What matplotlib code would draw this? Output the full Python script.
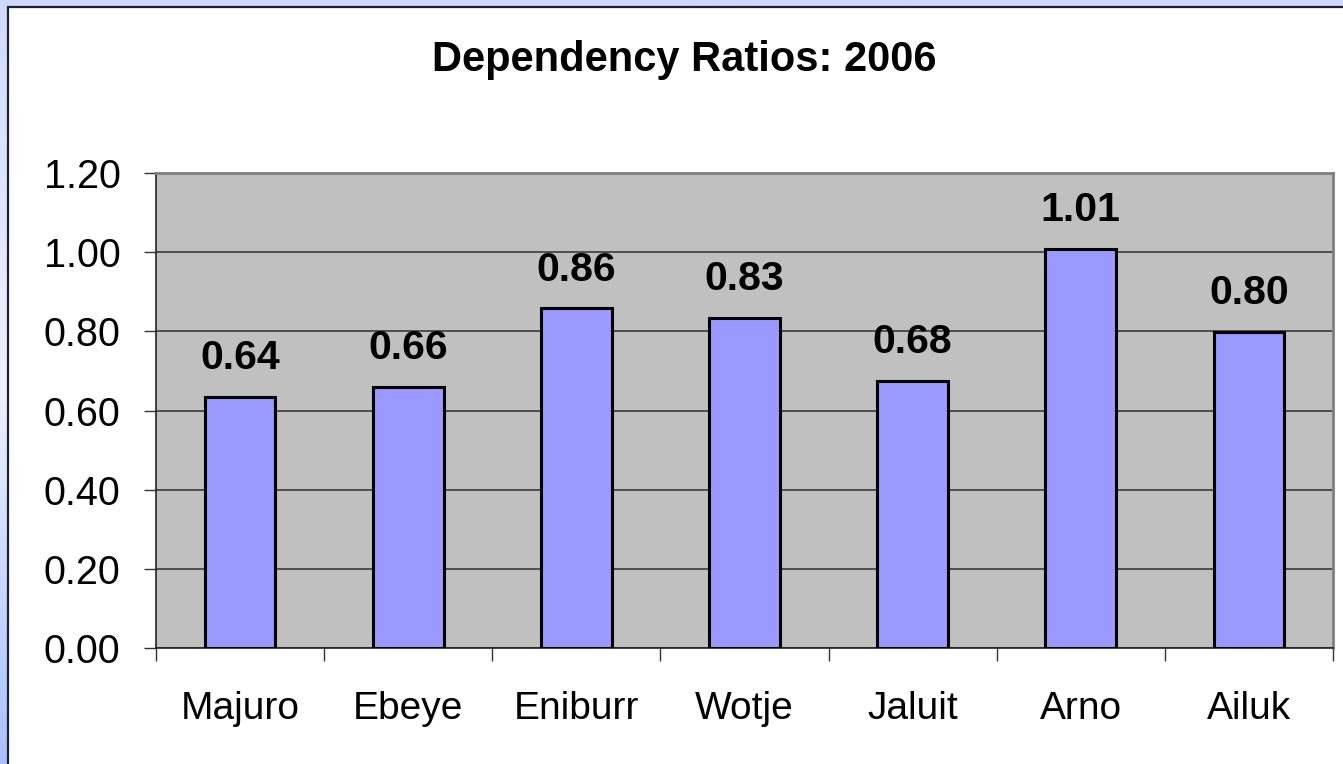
# dependency ratios bar chart

import numpy as np
from matplotlib import pyplot as plt
from matplotlib.patches import Rectangle
from matplotlib.colors import LinearSegmentedColormap

# data
islands = ["Majuro", "Ebeye", "Eniburr", "Wotje", "Jaluit", "Arno", "Ailuk"]
ratios = [0.635, 0.66, 0.858, 0.833, 0.675, 1.009, 0.798]
ratio_labels = ["0.64", "0.66", "0.86", "0.83", "0.68", "1.01", "0.80"]
y_ticks = [0.0, 0.2, 0.4, 0.6, 0.8, 1.0, 1.2]

plt.rcParams['font.family'] = ['Liberation Sans', 'DejaVu Sans']

W, H = 1343, 764
fig = plt.figure(figsize=(W / 100, H / 100), dpi=100)

# bluish gradient behind the white panel
bg = fig.add_axes([0, 0, 1, 1], zorder=-10)
cmap = LinearSegmentedColormap.from_list("bg", ["#cfd9ff", "#eef1ff", "#a9bfff"])
bg.imshow(np.linspace(0, 1, 256).reshape(-1, 1), aspect="auto", cmap=cmap,
          extent=[0, 1, 0, 1])
bg.set_xlim(0, 1)
bg.set_ylim(0, 1)
bg.axis("off")

# white chart panel with dark border on top and left
panel = Rectangle((8 / W, -0.1), 1.2, 1.1 - 7 / H, transform=fig.transFigure,
                  facecolor="white", edgecolor="#202030", linewidth=1.6,
                  zorder=-5)
fig.patches.append(panel)

# plot area
ax = fig.add_axes([156 / W, (H - 648) / H, 1177 / W, 475 / H])
ax.set_facecolor("#c0c0c0")

x = np.arange(len(islands))
ax.bar(x, ratios, width=0.42, color="#9999ff", edgecolor="black",
       linewidth=2.2, zorder=3)

for i in range(len(islands)):
    ax.annotate(ratio_labels[i], (x[i], ratios[i]), xytext=(0, 20),
                textcoords="offset points", ha="center", va="baseline",
                fontsize=29.5, fontweight="bold", zorder=4)

ax.set_xlim(-0.5, len(islands) - 0.5)
ax.set_ylim(0, 1.2)

# y axis
ax.set_yticks(y_ticks)
ax.set_yticklabels([f"{v:.2f}" for v in y_ticks])
ax.tick_params(axis="y", length=8.6, width=1, pad=17, labelsize=28.5,
               color="#333333")
ax.yaxis.grid(True, color="#303030", linewidth=1.1)
ax.set_axisbelow(True)

# x axis: ticks on category borders, labels in the middle
ax.set_xticks(np.arange(-0.5, len(islands), 1.0))
ax.set_xticklabels([])
ax.tick_params(axis="x", which="major", length=9, width=1, color="#333333")
ax.set_xticks(x, minor=True)
ax.set_xticklabels(islands, minor=True)
ax.tick_params(axis="x", which="minor", length=0, pad=31, labelsize=28)

for side in ["left", "bottom"]:
    ax.spines[side].set_color("#222222")
    ax.spines[side].set_linewidth(1.2)
for side in ["top", "right"]:
    ax.spines[side].set_color("#808080")
    ax.spines[side].set_linewidth(2)

fig.text(684 / W, 1 - 60 / H, "Dependency Ratios: 2006", ha="center",
         va="center", fontsize=30, fontweight="bold")

fig.savefig("out.png", dpi=100)
